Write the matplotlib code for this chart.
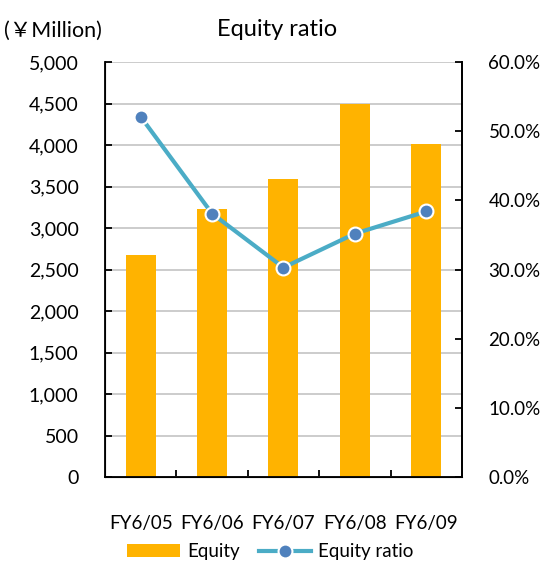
import matplotlib
matplotlib.use("Agg")
from matplotlib import pyplot as plt
from matplotlib.ticker import FuncFormatter, MultipleLocator

plt.rcParams['font.family'] = ['Lato', 'DejaVu Sans']

years = ['FY6/05', 'FY6/06', 'FY6/07', 'FY6/08', 'FY6/09']
equity = [2670, 3235, 3595, 4495, 4015]
ratio = [52.1, 38.1, 30.3, 35.2, 38.4]

bar_color = '#FFB300'
line_color = '#4BACC6'
dot_color = '#4F81BD'

fig = plt.figure(figsize=(5.41, 5.64), dpi=100)
ax = fig.add_axes([0.194, 0.154, 0.66, 0.736])
x = list(range(len(years)))

bars = ax.bar(x, equity, width=0.42, color=bar_color, zorder=2, label='Equity')
ax.set_ylim(0, 5000)
ax.set_xlim(-0.5, 4.5)
ax.yaxis.set_major_locator(MultipleLocator(500))
ax.yaxis.set_major_formatter(FuncFormatter(lambda v, p: f'{int(v):,}'))
ax.grid(axis='y', color='#c8c8c8', linewidth=1.3, zorder=0)
ax.set_axisbelow(True)
ax.set_xticks([i - 0.5 for i in range(1, len(years))])
ax.set_xticklabels([])
ax.set_xticks(x, minor=True)
ax.set_xticklabels(years, minor=True)
ax.tick_params(axis='x', which='major', direction='in', length=5, width=1.3)
ax.tick_params(axis='x', which='minor', length=0, pad=27, labelsize=13.5)
ax.tick_params(axis='y', direction='in', length=5, width=1.3, pad=19, labelsize=14)
ax.spines['top'].set_visible(False)
for s in ['left', 'bottom', 'right']:
    ax.spines[s].set_linewidth(1.3)

ax2 = ax.twinx()
line, = ax2.plot(x, ratio, color=line_color, linewidth=3, marker='o', markersize=10,
                 markerfacecolor=dot_color, markeredgecolor='white', markeredgewidth=1.5,
                 zorder=3, label='Equity ratio')
ax2.set_ylim(0, 60)
ax2.yaxis.set_major_locator(MultipleLocator(10))
ax2.yaxis.set_major_formatter(FuncFormatter(lambda v, p: f'{v:.1f}%'))
ax2.tick_params(axis='y', direction='in', length=5, width=1.3, pad=19, labelsize=13.5)
ax2.spines['top'].set_visible(False)
ax2.spines['right'].set_linewidth(1.3)

fig.text(0.512, 0.948, 'Equity ratio', ha='center', va='center', fontsize=17)
fig.text(0.008, 0.945, '(￥Million)', ha='left', va='center', fontsize=15.5,
         family=['Lato', 'Noto Sans CJK JP', 'DejaVu Sans'])

fig.legend([bars, line], ['Equity', 'Equity ratio'], loc='center', ncol=2,
           bbox_to_anchor=(0.5, 0.022), frameon=False, fontsize=13.5,
           handlelength=2.8, columnspacing=1.0, handletextpad=0.4)

fig.savefig('out.png', dpi=100)
